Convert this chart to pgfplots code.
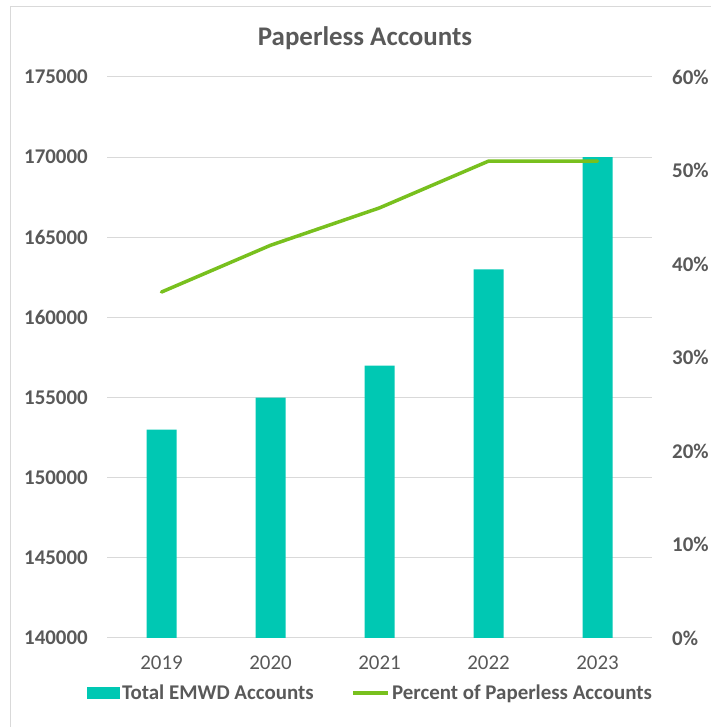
\documentclass[border=0pt]{standalone}
\usepackage{pgfplots}
\pgfplotsset{compat=1.18}
\usepackage{fontspec}
\setmainfont{Carlito}
\definecolor{barc}{HTML}{00C8B3}
\definecolor{linec}{HTML}{78C01E}
\definecolor{txt}{HTML}{595959}
\definecolor{gridc}{HTML}{D9D9D9}
\begin{document}
\begin{tikzpicture}[x=1bp,y=1bp]
\path[use as bounding box] (0,0) rectangle (711,727);
\draw[gridc, line width=1bp] (10,0) -- (10,720) -- (711,720);
\node[font=\fontsize{27}{32}\selectfont\bfseries, text=txt] at (365,689) {Paperless Accounts};
\begin{axis}[
  at={(107bp,89bp)}, anchor=south west, scale only axis,
  width=545bp, height=561bp,
  xmin=-0.5, xmax=4.5, ymin=140000, ymax=175000,
  xtick={0,1,2,3,4}, xticklabels={2019,2020,2021,2022,2023},
  ytick={140000,145000,150000,155000,160000,165000,170000,175000},
  yticklabels={140000,145000,150000,155000,160000,165000,170000,175000},
  scaled y ticks=false,
  /pgf/number format/assume math mode=true,
  ymajorgrids, grid style={gridc, line width=1bp},
  axis line style={draw=none}, major tick length=0,
  yticklabel style={font=\fontsize{21}{25}\selectfont\bfseries, text=txt, anchor=east, inner sep=0pt, xshift=-19bp},
  xticklabel style={font=\fontsize{21}{25}\selectfont, text=txt, anchor=north, inner sep=0pt, yshift=-18bp},
  legend style={at={(rel axis cs:0.4835,-0.098)}, anchor=center, draw=none, fill=none,
    font=\fontsize{21}{25}\selectfont\bfseries, text=txt, legend columns=2,
    /tikz/every even column/.append style={column sep=36bp}},
  legend cell align=left,
]
\addplot[ybar, bar width=30bp, fill=barc, draw=none,
  legend image code/.code={\fill[barc] (0bp,-6bp) rectangle (33bp,6bp);}]
  coordinates {(0,153000) (1,155000) (2,157000) (3,163000) (4,170000)};
\addlegendentry{Total EMWD Accounts}
\addlegendimage{legend image code/.code={\draw[linec, line width=3.5bp] (0bp,0bp) -- (35bp,0bp);}}
\addlegendentry{Percent of Paperless Accounts}
\end{axis}
\begin{axis}[
  at={(107bp,89bp)}, anchor=south west, scale only axis,
  width=545bp, height=561bp,
  xmin=-0.5, xmax=4.5, ymin=0, ymax=0.6,
  axis x line=none, axis y line*=right, y axis line style={draw=none},
  ytick={0,0.1,0.2,0.3,0.4,0.5,0.6},
  yticklabels={0\%,10\%,20\%,30\%,40\%,50\%,60\%},
  /pgf/number format/assume math mode=true,
  major tick length=0,
  yticklabel style={font=\fontsize{21}{25}\selectfont\bfseries, text=txt, anchor=west, inner sep=0pt, xshift=20bp},
]
\addplot[linec, line width=3.5bp, line cap=round, line join=round]
  coordinates {(0,0.37) (1,0.42) (2,0.46) (3,0.51) (4,0.51)};
\end{axis}
\end{tikzpicture}
\end{document}
